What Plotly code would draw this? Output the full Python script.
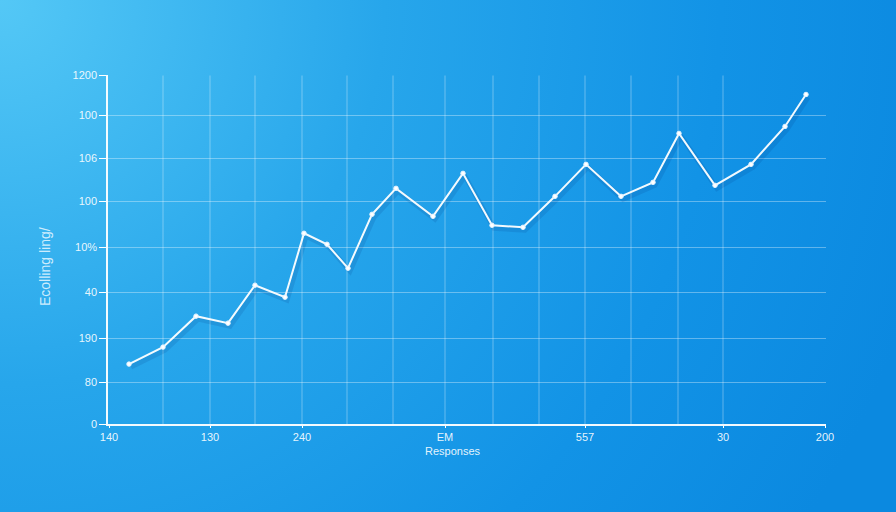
import base64
import plotly.graph_objects as go

# ---- data ----
x_vals = [21, 55, 88, 120, 147, 177, 196, 219, 240, 264, 288, 325, 355, 384,
          415, 447, 478, 513, 545, 571, 607, 643, 677, 698]
y_vals = [60, 77, 108, 101, 139, 127, 191, 180, 156, 210, 236, 208, 251, 199,
          197, 228, 260, 228, 242, 291, 239, 260, 298, 330]

x_grid = [55, 102, 147, 194, 239, 285, 337, 385, 431, 477, 523, 570, 615]
x_tick_vals = [1, 102, 194, 337, 477, 615, 717]
x_tick_text = ["140", "130", "240", "EM", "557", "30", "200"]

y_tick_vals = [0, 42, 86, 132, 177, 223, 266, 309, 349]
y_tick_text = ["0", "80", "190", "40", "10%", "100", "106", "100", "1200"]

y_title = "Ecolling ling/"
x_title = "Responses"

W, H = 896, 512
L, R, T, B = 108, 70, 75, 88
PW, PH = W - L - R, H - T - B

svg = f"""<svg xmlns='http://www.w3.org/2000/svg' width='{W}' height='{H}' viewBox='0 0 {W} {H}' preserveAspectRatio='none'>
<defs>
<radialGradient id='g' cx='0' cy='0' r='960' gradientUnits='userSpaceOnUse'>
<stop offset='0' stop-color='#54c8f6'/>
<stop offset='0.4' stop-color='#27a6eb'/>
<stop offset='0.75' stop-color='#1293e6'/>
<stop offset='1' stop-color='#0b89e0'/>
</radialGradient>
</defs>
<rect width='{W}' height='{H}' fill='url(#g)'/>
</svg>"""
src = "data:image/svg+xml;base64," + base64.b64encode(svg.encode()).decode()

fig = go.Figure()

# soft shadow under the line
fig.add_trace(go.Scatter(
    x=[v + 2 for v in x_vals], y=[v - 3 for v in y_vals], mode="lines",
    line=dict(color="rgba(0,50,120,0.13)", width=5),
    hoverinfo="skip", showlegend=False))

fig.add_trace(go.Scatter(
    x=x_vals, y=y_vals, mode="lines+markers",
    line=dict(color="rgba(255,255,255,0.95)", width=2),
    marker=dict(size=4.5, color="white", line=dict(color="rgba(220,240,255,1)", width=1)),
    showlegend=False))

# vertical grid lines (unlabelled positions)
for gx in x_grid:
    fig.add_shape(type="line", xref="x", yref="y", x0=gx, x1=gx, y0=0, y1=349,
                  line=dict(color="rgba(255,255,255,0.34)", width=1), layer="below")

fig.update_layout(
    width=W, height=H,
    margin=dict(l=L, r=R, t=T, b=B),
    paper_bgcolor="#1a9ae8",
    plot_bgcolor="rgba(0,0,0,0)",
    font=dict(family="Liberation Sans, Arial, sans-serif", color="rgba(255,255,255,0.9)", size=11),
    images=[dict(source=src, xref="paper", yref="paper",
                 x=-L / PW, y=1 + T / PH, sizex=W / PW, sizey=H / PH,
                 xanchor="left", yanchor="top", sizing="stretch", layer="below")],
    xaxis=dict(range=[0, 718], showgrid=False, zeroline=False,
               tickmode="array", tickvals=x_tick_vals, ticktext=x_tick_text,
               ticks="outside", ticklen=2, tickcolor="white",
               showline=True, linecolor="rgba(255,255,255,0.95)", linewidth=1.5,
               tickfont=dict(size=11, color="rgba(255,255,255,0.9)")),
    yaxis=dict(range=[0, 349.5], showgrid=True, gridcolor="rgba(255,255,255,0.34)", gridwidth=1,
               zeroline=False, tickmode="array", tickvals=y_tick_vals, ticktext=y_tick_text,
               ticks="outside", ticklen=7, tickcolor="white",
               showline=True, linecolor="rgba(255,255,255,0.95)", linewidth=1.5,
               tickfont=dict(size=11, color="rgba(255,255,255,0.9)")),
    annotations=[
        dict(text=y_title, xref="paper", yref="paper", x=(45 - L) / PW, y=(H - B - 267) / PH,
             showarrow=False, textangle=-90, xanchor="center", yanchor="middle",
             font=dict(size=14, color="rgba(225,245,255,0.9)")),
        dict(text=x_title, xref="paper", yref="paper", x=(453 - L) / PW, y=-(451 - (H - B)) / PH,
             showarrow=False, xanchor="center", yanchor="middle",
             font=dict(size=11, color="rgba(255,255,255,0.9)")),
    ],
)

fig.write_html("out.html",
               config={"displayModeBar": False},
               post_script="document.body.style.margin='0';document.body.style.padding='0';")
